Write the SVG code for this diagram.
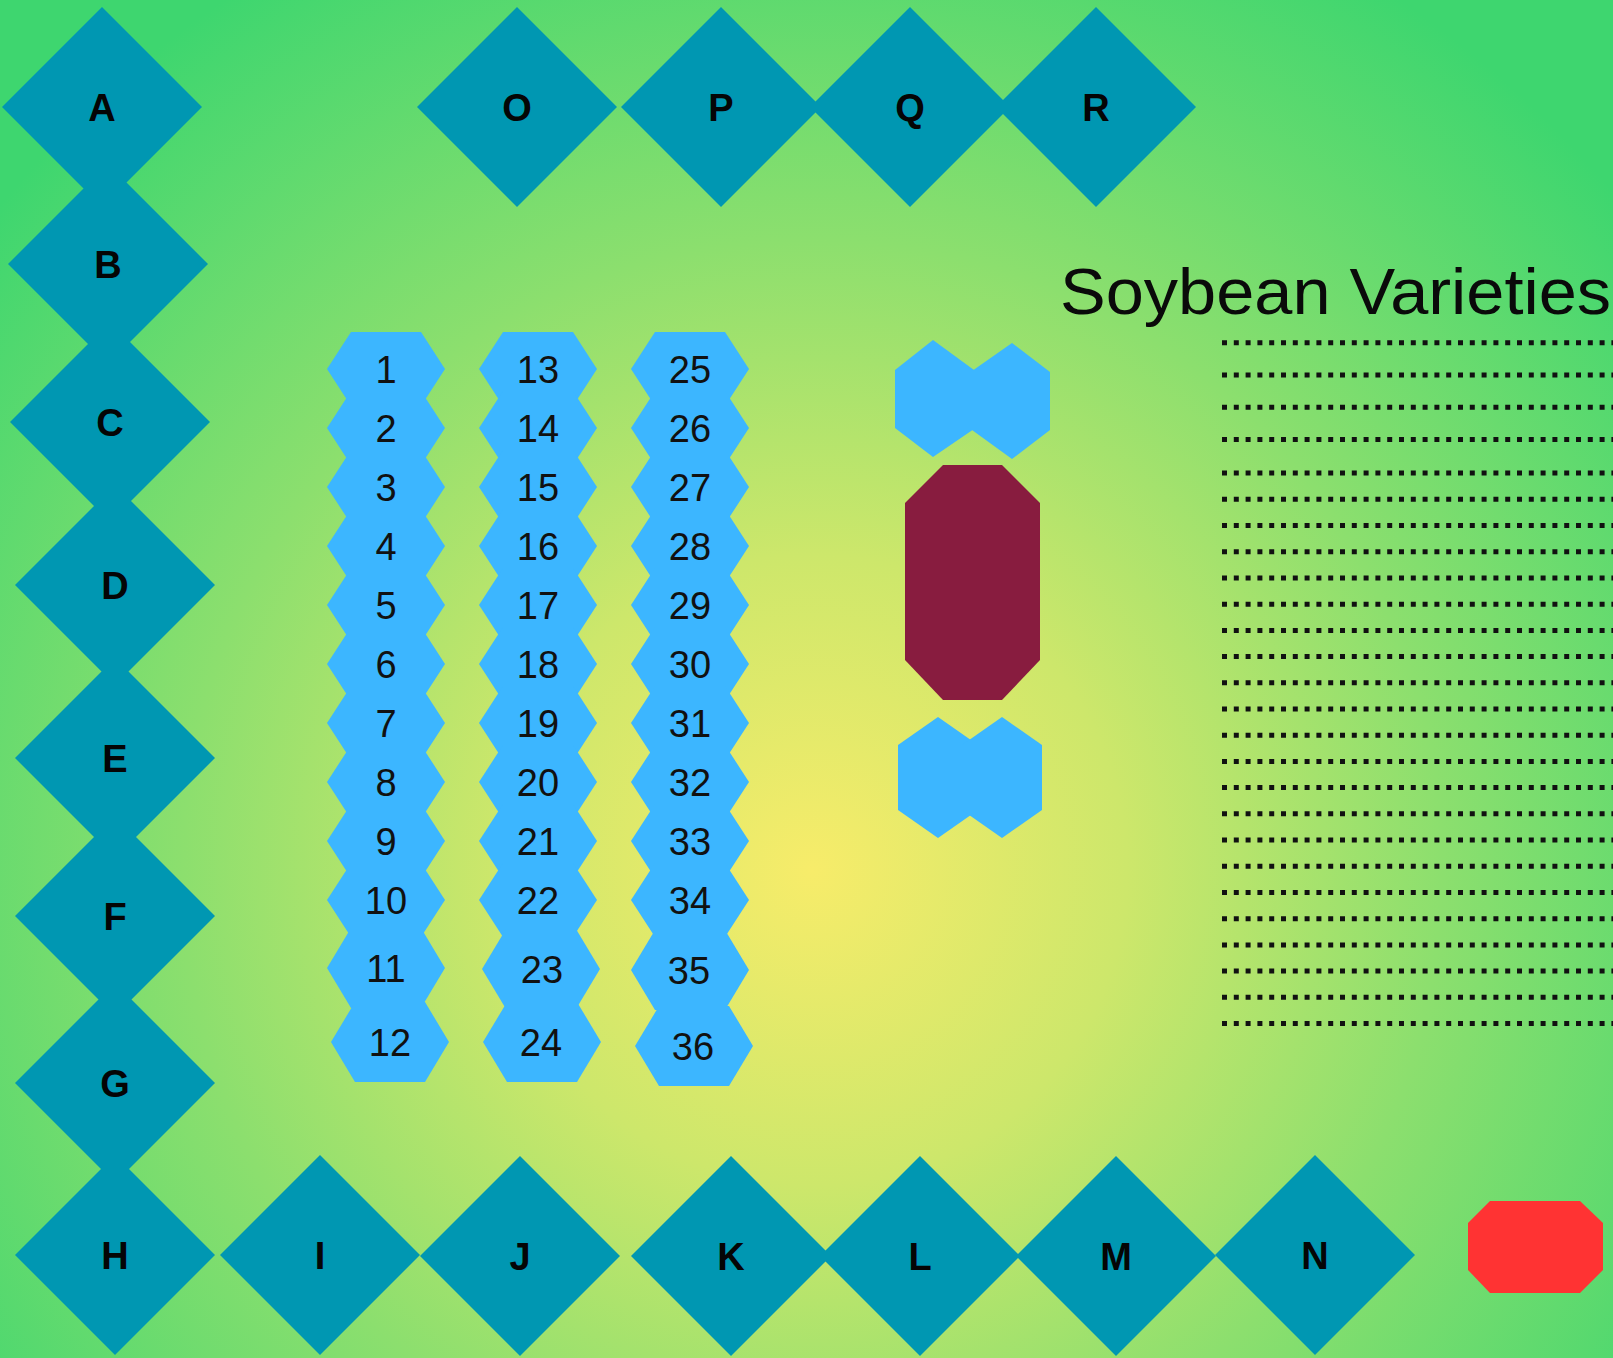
<svg xmlns="http://www.w3.org/2000/svg" xmlns:xlink="http://www.w3.org/1999/xlink" width="1613" height="1358" viewBox="0 0 1613 1358">
<defs>
<radialGradient id="bg" gradientUnits="userSpaceOnUse" cx="812" cy="870" r="1050">
<stop offset="0" stop-color="#F7EC6A"/>
<stop offset="0.3" stop-color="#CDE76B"/>
<stop offset="0.6" stop-color="#8CDF6E"/>
<stop offset="1" stop-color="#3ED66F"/>
</radialGradient>
<polygon id="dm" points="0,-100 100,0 0,100 -100,0"/>
<polygon id="hx" points="-35,-37 35,-37 59,0 35,37 -35,37 -59,0"/>
<polygon id="hx2" points="-35,-40 35,-40 59,0 35,40 -35,40 -59,0"/>
<style>
.dia{fill:#0097B2}
.hex{fill:#3CB6FF}
.lbl{font-family:"Liberation Sans",Arial,sans-serif;font-weight:bold;font-size:38px;fill:#050505;text-anchor:middle}
.num{font-family:"Liberation Sans",Arial,sans-serif;font-size:38px;fill:#111111;text-anchor:middle}
.dots{stroke:#111111;stroke-width:5;stroke-dasharray:5 6.8;fill:none}
.title{font-family:"Liberation Sans",Arial,sans-serif;font-size:64px;fill:#0a0a0a}
</style>
</defs>
<rect x="0" y="0" width="1613" height="1358" fill="url(#bg)"/>

<g id="connectors"/>

<!-- Left column diamonds -->
<g id="node-A"><use href="#dm" class="dia" x="102" y="107"/><text class="lbl" x="102" y="121">A</text></g>
<g id="node-B"><use href="#dm" class="dia" x="108" y="264"/><text class="lbl" x="108" y="278">B</text></g>
<g id="node-C"><use href="#dm" class="dia" x="110" y="422"/><text class="lbl" x="110" y="436">C</text></g>
<g id="node-D"><use href="#dm" class="dia" x="115" y="585"/><text class="lbl" x="115" y="599">D</text></g>
<g id="node-E"><use href="#dm" class="dia" x="115" y="758"/><text class="lbl" x="115" y="772">E</text></g>
<g id="node-F"><use href="#dm" class="dia" x="115" y="916"/><text class="lbl" x="115" y="930">F</text></g>
<g id="node-G"><use href="#dm" class="dia" x="115" y="1083"/><text class="lbl" x="115" y="1097">G</text></g>
<g id="node-H"><use href="#dm" class="dia" x="115" y="1255"/><text class="lbl" x="115" y="1269">H</text></g>

<!-- Top row diamonds -->
<g id="node-O"><use href="#dm" class="dia" x="517" y="107"/><text class="lbl" x="517" y="121">O</text></g>
<g id="node-P"><use href="#dm" class="dia" x="721" y="107"/><text class="lbl" x="721" y="121">P</text></g>
<g id="node-Q"><use href="#dm" class="dia" x="910" y="107"/><text class="lbl" x="910" y="121">Q</text></g>
<g id="node-R"><use href="#dm" class="dia" x="1096" y="107"/><text class="lbl" x="1096" y="121">R</text></g>

<!-- Bottom row diamonds -->
<g id="node-I"><use href="#dm" class="dia" x="320" y="1255"/><text class="lbl" x="320" y="1269">I</text></g>
<g id="node-J"><use href="#dm" class="dia" x="520" y="1256"/><text class="lbl" x="520" y="1270">J</text></g>
<g id="node-K"><use href="#dm" class="dia" x="731" y="1256"/><text class="lbl" x="731" y="1270">K</text></g>
<g id="node-L"><use href="#dm" class="dia" x="920" y="1256"/><text class="lbl" x="920" y="1270">L</text></g>
<g id="node-M"><use href="#dm" class="dia" x="1116" y="1256"/><text class="lbl" x="1116" y="1270">M</text></g>
<g id="node-N"><use href="#dm" class="dia" x="1315" y="1255"/><text class="lbl" x="1315" y="1269">N</text></g>

<!-- Column 1 hexagons -->
<g id="node-1"><use href="#hx" class="hex" x="386" y="369"/><text class="num" x="386" y="383">1</text></g>
<g id="node-2"><use href="#hx" class="hex" x="386" y="428"/><text class="num" x="386" y="442">2</text></g>
<g id="node-3"><use href="#hx" class="hex" x="386" y="487"/><text class="num" x="386" y="501">3</text></g>
<g id="node-4"><use href="#hx" class="hex" x="386" y="546"/><text class="num" x="386" y="560">4</text></g>
<g id="node-5"><use href="#hx" class="hex" x="386" y="605"/><text class="num" x="386" y="619">5</text></g>
<g id="node-6"><use href="#hx" class="hex" x="386" y="664"/><text class="num" x="386" y="678">6</text></g>
<g id="node-7"><use href="#hx" class="hex" x="386" y="723"/><text class="num" x="386" y="737">7</text></g>
<g id="node-8"><use href="#hx" class="hex" x="386" y="782"/><text class="num" x="386" y="796">8</text></g>
<g id="node-9"><use href="#hx" class="hex" x="386" y="841"/><text class="num" x="386" y="855">9</text></g>
<g id="node-10"><use href="#hx" class="hex" x="386" y="900"/><text class="num" x="386" y="914">10</text></g>
<g id="node-11"><use href="#hx2" class="hex" x="386" y="968"/><text class="num" x="386" y="982">11</text></g>
<g id="node-12"><use href="#hx2" class="hex" x="390" y="1042"/><text class="num" x="390" y="1056">12</text></g>

<!-- Column 2 hexagons -->
<g id="node-13"><use href="#hx" class="hex" x="538" y="369"/><text class="num" x="538" y="383">13</text></g>
<g id="node-14"><use href="#hx" class="hex" x="538" y="428"/><text class="num" x="538" y="442">14</text></g>
<g id="node-15"><use href="#hx" class="hex" x="538" y="487"/><text class="num" x="538" y="501">15</text></g>
<g id="node-16"><use href="#hx" class="hex" x="538" y="546"/><text class="num" x="538" y="560">16</text></g>
<g id="node-17"><use href="#hx" class="hex" x="538" y="605"/><text class="num" x="538" y="619">17</text></g>
<g id="node-18"><use href="#hx" class="hex" x="538" y="664"/><text class="num" x="538" y="678">18</text></g>
<g id="node-19"><use href="#hx" class="hex" x="538" y="723"/><text class="num" x="538" y="737">19</text></g>
<g id="node-20"><use href="#hx" class="hex" x="538" y="782"/><text class="num" x="538" y="796">20</text></g>
<g id="node-21"><use href="#hx" class="hex" x="538" y="841"/><text class="num" x="538" y="855">21</text></g>
<g id="node-22"><use href="#hx" class="hex" x="538" y="900"/><text class="num" x="538" y="914">22</text></g>
<g id="node-23"><use href="#hx2" class="hex" x="541" y="969"/><text class="num" x="542" y="983">23</text></g>
<g id="node-24"><use href="#hx2" class="hex" x="542" y="1042"/><text class="num" x="541" y="1056">24</text></g>

<!-- Column 3 hexagons -->
<g id="node-25"><use href="#hx" class="hex" x="690" y="369"/><text class="num" x="690" y="383">25</text></g>
<g id="node-26"><use href="#hx" class="hex" x="690" y="428"/><text class="num" x="690" y="442">26</text></g>
<g id="node-27"><use href="#hx" class="hex" x="690" y="487"/><text class="num" x="690" y="501">27</text></g>
<g id="node-28"><use href="#hx" class="hex" x="690" y="546"/><text class="num" x="690" y="560">28</text></g>
<g id="node-29"><use href="#hx" class="hex" x="690" y="605"/><text class="num" x="690" y="619">29</text></g>
<g id="node-30"><use href="#hx" class="hex" x="690" y="664"/><text class="num" x="690" y="678">30</text></g>
<g id="node-31"><use href="#hx" class="hex" x="690" y="723"/><text class="num" x="690" y="737">31</text></g>
<g id="node-32"><use href="#hx" class="hex" x="690" y="782"/><text class="num" x="690" y="796">32</text></g>
<g id="node-33"><use href="#hx" class="hex" x="690" y="841"/><text class="num" x="690" y="855">33</text></g>
<g id="node-34"><use href="#hx" class="hex" x="690" y="900"/><text class="num" x="690" y="914">34</text></g>
<g id="node-35"><use href="#hx2" class="hex" x="690" y="970"/><text class="num" x="689" y="984">35</text></g>
<g id="node-36"><use href="#hx2" class="hex" x="694" y="1046"/><text class="num" x="693" y="1060">36</text></g>

<!-- Right-side shapes -->
<g id="node-hexpair-top">
<polygon class="hex" points="933,340 974,370 974,429 933,457 895,428 895,370"/>
<polygon class="hex" points="1012,343 1050,372 1050,430 1012,459 972,430 972,371"/>
</g>
<g id="node-octagon-dark">
<polygon fill="#881C3F" points="943,465 1002,465 1040,503 1040,660 1002,700 943,700 905,660 905,503"/>
</g>
<g id="node-hexpair-bottom">
<polygon class="hex" points="938,717 978,745 978,810 938,838 898,810 898,745"/>
<polygon class="hex" points="1002,717 1042,745 1042,810 1002,838 962,810 962,745"/>
</g>
<g id="node-octagon-red">
<polygon fill="#FF3333" points="1490,1201 1580,1201 1603,1223 1603,1270 1580,1293 1490,1293 1468,1270 1468,1223"/>
</g>

<!-- Legend -->
<g id="legend">
<text class="title" x="1060" y="314" textLength="551" lengthAdjust="spacingAndGlyphs">Soybean Varieties</text>
<line class="dots" x1="1222" y1="342.7" x2="1613" y2="342.7"/>
<line class="dots" x1="1222" y1="375" x2="1613" y2="375"/>
<line class="dots" x1="1222" y1="407.3" x2="1613" y2="407.3"/>
<line class="dots" x1="1222" y1="439.5" x2="1613" y2="439.5"/>
<line class="dots" x1="1222" y1="473" x2="1613" y2="473"/>
<line class="dots" x1="1222" y1="499.3" x2="1613" y2="499.3"/>
<line class="dots" x1="1222" y1="525.5" x2="1613" y2="525.5"/>
<line class="dots" x1="1222" y1="551.7" x2="1613" y2="551.7"/>
<line class="dots" x1="1222" y1="578" x2="1613" y2="578"/>
<line class="dots" x1="1222" y1="604.2" x2="1613" y2="604.2"/>
<line class="dots" x1="1222" y1="630.4" x2="1613" y2="630.4"/>
<line class="dots" x1="1222" y1="656.6" x2="1613" y2="656.6"/>
<line class="dots" x1="1222" y1="682.8" x2="1613" y2="682.8"/>
<line class="dots" x1="1222" y1="709" x2="1613" y2="709"/>
<line class="dots" x1="1222" y1="735.2" x2="1613" y2="735.2"/>
<line class="dots" x1="1222" y1="761.4" x2="1613" y2="761.4"/>
<line class="dots" x1="1222" y1="787.6" x2="1613" y2="787.6"/>
<line class="dots" x1="1222" y1="813.8" x2="1613" y2="813.8"/>
<line class="dots" x1="1222" y1="840" x2="1613" y2="840"/>
<line class="dots" x1="1222" y1="866.3" x2="1613" y2="866.3"/>
<line class="dots" x1="1222" y1="892.5" x2="1613" y2="892.5"/>
<line class="dots" x1="1222" y1="918.7" x2="1613" y2="918.7"/>
<line class="dots" x1="1222" y1="944.9" x2="1613" y2="944.9"/>
<line class="dots" x1="1222" y1="971.1" x2="1613" y2="971.1"/>
<line class="dots" x1="1222" y1="997.3" x2="1613" y2="997.3"/>
<line class="dots" x1="1222" y1="1023.4" x2="1613" y2="1023.4"/>
</g>
</svg>
